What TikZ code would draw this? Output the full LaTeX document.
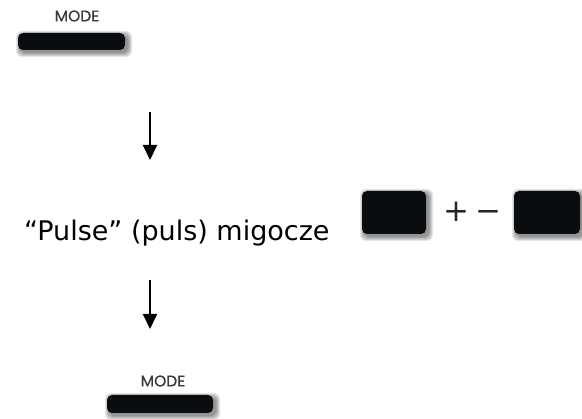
\documentclass[tikz,border=0pt]{standalone}
\usepackage{fontspec}
\setmainfont{DejaVu Sans}
\newfontfamily\modefont[FakeBold=0.6]{Poppins}
\usetikzlibrary{arrows.meta}
\definecolor{btn}{HTML}{0A0D10}
\definecolor{lbl}{HTML}{3A3A3A}
\tikzset{
  btnshadow/.style={fill=black, opacity=0.10, rounded corners=6pt},
  flowarrow/.style={line width=2pt, -{Triangle[width=14pt,length=15pt]}},
  modelabel/.style={text=lbl, font=\modefont\fontsize{15.5}{18}\selectfont, inner sep=0pt},
  maintext/.style={font=\fontsize{27}{32}\selectfont, inner sep=0pt, anchor=base west},
  sym/.style={font=\fontsize{31}{36}\selectfont, inner sep=0pt, text=black!85, anchor=base}
}
\newcommand{\pbutton}[5]{% name, x1, y1, x2, y2
  \foreach \d in {0,1,2,3,4}{
    \fill[btnshadow] ({#2+2-\d},{#3+2-\d}) rectangle ({#4+3+\d},{#5+3+\d});
  }
  \fill[btn, rounded corners=5pt] (#2,#3) rectangle (#4,#5);
  \coordinate (#1) at ({(#2+#4)/2},{(#3+#5)/2});
}
\begin{document}
\begin{tikzpicture}[x=1pt,y=-1pt]
\useasboundingbox (0,0) rectangle (582,419);
% top MODE
\node[modelabel] (mode1) at (77,16) {MODE};
\pbutton{btn1}{18}{33}{125}{50}
% arrow 1
\coordinate (a1s) at (150,112);
\coordinate (a1e) at (150,160);
\draw[flowarrow] (a1s) -- (a1e);
% text
\node[maintext] (txt) at (24,241) {“Pulse” (puls) migocze};
% buttons + -
\pbutton{btnL}{362}{191}{426}{234}
\node[sym] (plus) at (456,222) {+};
\node[sym] (minus) at (488,222) {−};
\pbutton{btnR}{514}{191}{580}{234}
% arrow 2
\coordinate (a2s) at (150,280);
\coordinate (a2e) at (150,329);
\draw[flowarrow] (a2s) -- (a2e);
% bottom MODE
\node[modelabel] (mode2) at (163,381) {MODE};
\pbutton{btn2}{107}{395}{213}{413}
\end{tikzpicture}
\end{document}
